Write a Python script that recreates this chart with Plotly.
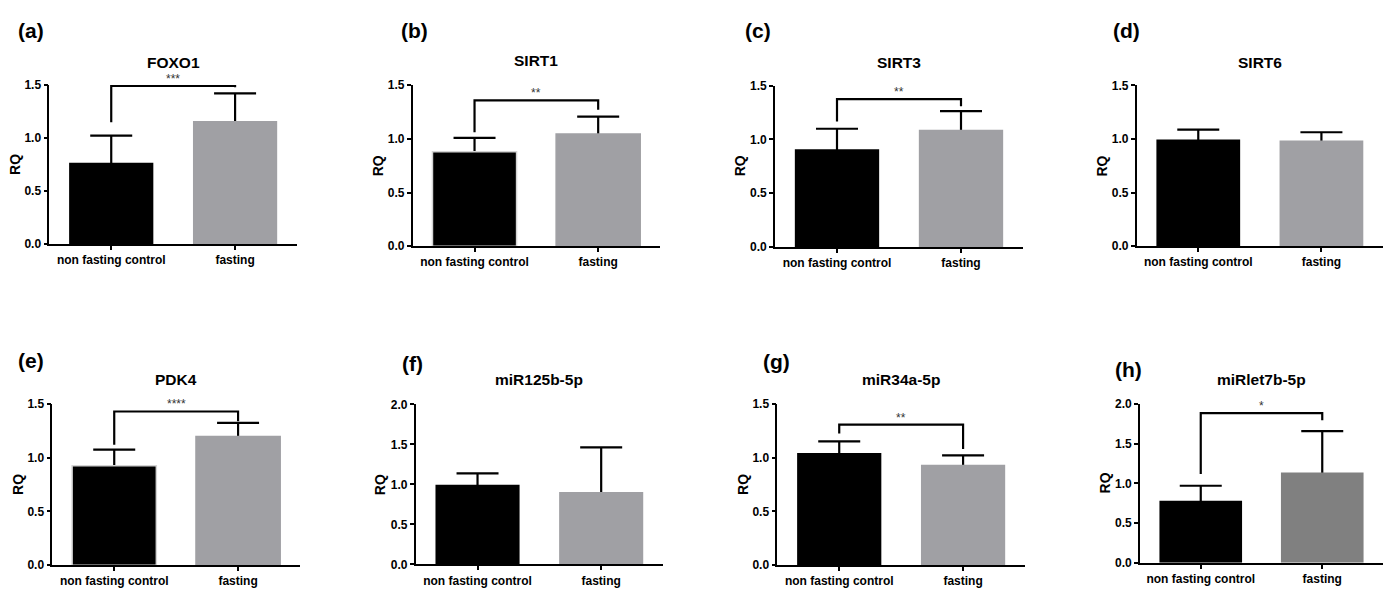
import plotly.graph_objects as go

# ---------------- data ----------------
panel_labels = ["(a)", "(b)", "(c)", "(d)", "(e)", "(f)", "(g)", "(h)"]
genes = ["FOXO1", "SIRT1", "SIRT3", "SIRT6", "PDK4", "miR125b-5p", "miR34a-5p", "miRlet7b-5p"]
categories = ["non fasting control", "fasting"]

control_mean = [0.768, 0.879, 0.909, 0.995, 0.925, 0.996, 1.045, 0.782]
control_err = [0.255, 0.130, 0.191, 0.092, 0.151, 0.142, 0.107, 0.189]
fasting_mean = [1.162, 1.045, 1.090, 0.986, 1.197, 0.906, 0.934, 1.139]
fasting_err = [0.261, 0.161, 0.174, 0.077, 0.128, 0.557, 0.088, 0.521]

y_max = [1.5, 1.5, 1.5, 1.5, 1.5, 2.0, 1.5, 2.0]
y_tick_step = 0.5

significance = ["***", "**", "**", "", "****", "", "**", "*"]
bracket_y = [1.492, 1.357, 1.376, None, 1.431, None, 1.309, 1.885]
bracket_left_end = [1.15, 1.06, 1.167, None, 1.122, None, 1.227, 1.119]
bracket_right_end = [1.48, 1.27, 1.309, None, 1.34, None, 1.082, 1.795]

# ---------------- layout geometry (pixels) ----------------
W, H = 1392, 592
axis_x = [(49.3, 297), (412.7, 660), (775, 1023), (1136.7, 1383),
          (52.3, 300), (415.7, 663), (777.3, 1025), (1140, 1383)]
axis_y = [(80, 243), (80, 245), (80.7, 245.7), (80.3, 245),
          (406.7, 571.7), (407, 571), (406.7, 571.7), (406.7, 569.3)]
title_y = [56.7, 55, 56.7, 56.7, 381.7, 381.7, 381.7, 381.7]
letter_pos = [(31, 24), (414, 24), (758, 24), (1126, 24),
              (31, 362), (413, 365), (776, 363), (1128, 371)]

BLACK = "#000000"
GRAY = "#a0a0a4"
DARK_GRAY = "#808080"
fasting_colors = [GRAY] * 7 + [DARK_GRAY]
outlined = {1, 4}
FONT = "Liberation Sans, Arial, sans-serif"


def fx(px):
    return px / W


def fy(py):
    return 1 - py / H


fig = go.Figure()
layout = dict(
    width=W, height=H, margin=dict(l=0, r=0, t=0, b=0),
    paper_bgcolor="white", plot_bgcolor="white",
    showlegend=False, barmode="overlay",
    font=dict(family=FONT, color="black"),
)
annotations = []
shapes = []

for i in range(8):
    xa = "x" if i == 0 else f"x{i+1}"
    ya = "y" if i == 0 else f"y{i+1}"
    xk = "xaxis" if i == 0 else f"xaxis{i+1}"
    yk = "yaxis" if i == 0 else f"yaxis{i+1}"
    x0, x1 = axis_x[i]
    y0, y1 = axis_y[i]
    ymax = y_max[i]
    dip = 0.03 * ymax

    means = [control_mean[i], fasting_mean[i]]
    errs = [control_err[i], fasting_err[i]]

    # error bars (drawn beneath the bars so only the upper part shows)
    fig.add_trace(go.Bar(
        x=categories, y=[m - dip for m in means], width=0.68,
        marker=dict(color="rgba(0,0,0,0)", line=dict(width=0)),
        error_y=dict(type="data", symmetric=False,
                     array=[e + dip for e in errs], arrayminus=[0, 0],
                     color=BLACK, thickness=2.2, width=21),
        xaxis=xa, yaxis=ya, hoverinfo="skip",
    ))
    # bars
    line_col = ["#d4d4d4", fasting_colors[i]] if i in outlined else [BLACK, fasting_colors[i]]
    line_w = 1.5 if i in outlined else 0
    fig.add_trace(go.Bar(
        x=categories, y=means, width=0.68,
        marker=dict(color=[BLACK, fasting_colors[i]], line=dict(color=line_col, width=line_w)),
        xaxis=xa, yaxis=ya,
    ))

    nt = int(round(ymax / y_tick_step))
    tv = [k * y_tick_step for k in range(nt + 1)]
    layout[xk] = dict(
        domain=[fx(x0), fx(x1)], range=[-0.5, 1.5], type="category",
        anchor=ya, showline=True, linecolor="black", linewidth=1.6,
        ticks="outside", ticklen=4, tickwidth=1.5, tickcolor="black",
        showgrid=False, zeroline=False, fixedrange=True,
        tickfont=dict(family=FONT, size=12, color="black", weight="bold"),
    )
    layout[yk] = dict(
        domain=[fy(y1), fy(y0)], range=[0, ymax], anchor=xa,
        tickvals=tv, ticktext=[f"{v:.1f}" for v in tv],
        showline=True, linecolor="black", linewidth=1.6,
        ticks="outside", ticklen=4, tickwidth=1.5, tickcolor="black",
        showgrid=False, zeroline=False, fixedrange=True,
        tickfont=dict(family=FONT, size=12, color="black", weight="bold"),
    )

    # titles, axis label, panel letter
    annotations.append(dict(
        text=genes[i], xref="paper", yref="paper", x=fx((x0 + x1) / 2), y=fy(title_y[i]),
        xanchor="center", yanchor="middle", showarrow=False,
        font=dict(family=FONT, size=15.5, color="black", weight="bold"),
    ))
    annotations.append(dict(
        text="RQ", xref="paper", yref="paper", x=fx(x0 - 35), y=fy((y0 + y1) / 2),
        xanchor="center", yanchor="middle", showarrow=False, textangle=-90,
        font=dict(family=FONT, size=14, color="black", weight="bold"),
    ))
    lx, ly = letter_pos[i]
    annotations.append(dict(
        text=panel_labels[i], xref="paper", yref="paper", x=fx(lx), y=fy(ly),
        xanchor="center", yanchor="middle", showarrow=False,
        font=dict(family=FONT, size=21, color="black", weight="bold"),
    ))

    # significance bracket
    if significance[i]:
        by = bracket_y[i]
        shapes.append(dict(
            type="path", xref=xa, yref=ya, layer="above",
            path=(f"M 0,{bracket_left_end[i]} L 0,{by} L 1,{by} L 1,{bracket_right_end[i]}"),
            line=dict(color="black", width=2.2),
        ))
        annotations.append(dict(
            text=significance[i], xref=xa, yref=ya, x=0.5, y=by,
            xanchor="center", yanchor="bottom", yshift=-2, showarrow=False,
            font=dict(family=FONT, size=12, color="#333333"),
        ))

layout["annotations"] = annotations
layout["shapes"] = shapes
fig.update_layout(**layout)
fig.write_html(
    "out.html",
    config={"displayModeBar": False},
    post_script="document.body.style.margin='0';document.body.style.overflow='hidden';",
)
